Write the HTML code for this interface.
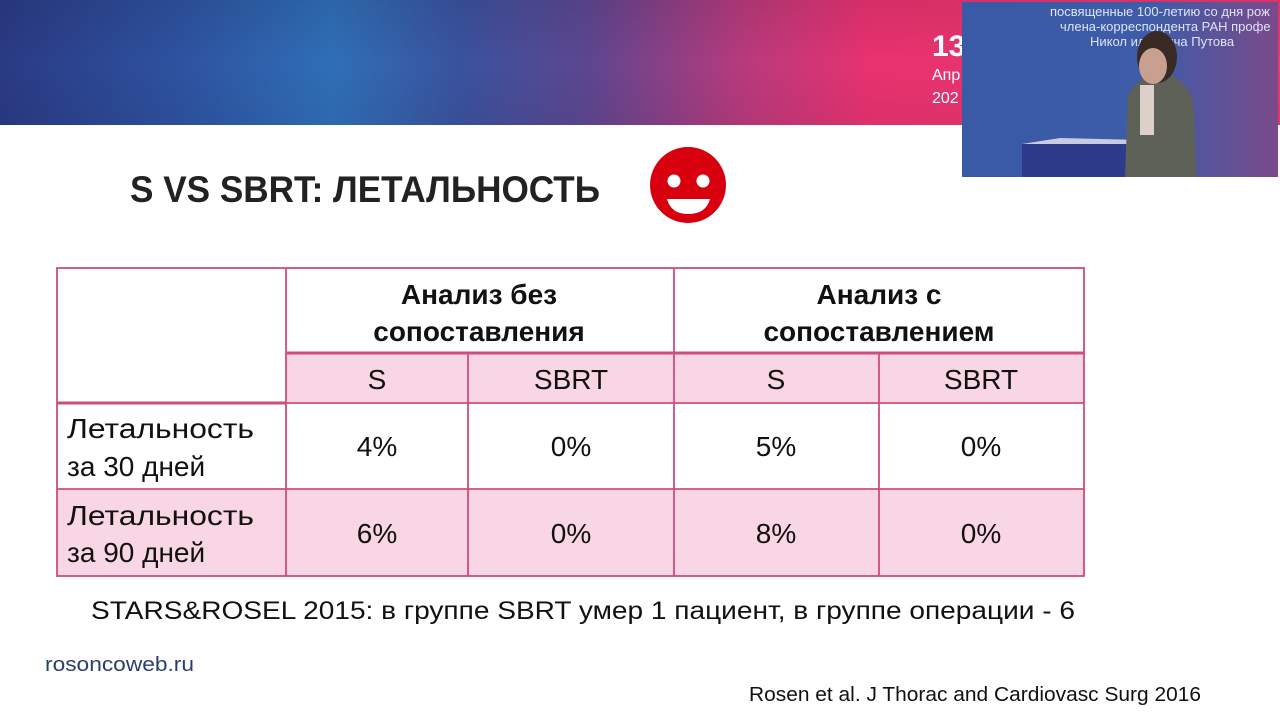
<!DOCTYPE html>
<html><head><meta charset="utf-8"><style>
html,body{margin:0;padding:0;background:#fff;width:1280px;height:720px;overflow:hidden}
svg{display:block}
text{font-family:"Liberation Sans",sans-serif}
</style></head><body>
<svg width="1280" height="720" viewBox="0 0 1280 720" xmlns="http://www.w3.org/2000/svg">
<defs>
<linearGradient id="bn" x1="0" y1="0" x2="1" y2="0">
<stop offset="0" stop-color="#2a3a84"/>
<stop offset="0.14" stop-color="#2e52a0"/>
<stop offset="0.26" stop-color="#2f6fb7"/>
<stop offset="0.36" stop-color="#3a529e"/>
<stop offset="0.46" stop-color="#5e4690"/>
<stop offset="0.58" stop-color="#b83a7c"/>
<stop offset="0.68" stop-color="#e8326f"/>
<stop offset="1" stop-color="#ec3870"/>
</linearGradient>
<linearGradient id="bv" x1="0" y1="0" x2="0" y2="1">
<stop offset="0" stop-color="#000" stop-opacity="0.08"/>
<stop offset="0.5" stop-color="#000" stop-opacity="0"/>
<stop offset="1" stop-color="#000" stop-opacity="0.05"/>
</linearGradient>
<linearGradient id="vid" x1="0" y1="0" x2="1" y2="0">
<stop offset="0" stop-color="#3a5aa6"/>
<stop offset="0.6" stop-color="#3e5ca8"/>
<stop offset="1" stop-color="#7a4a8a"/>
</linearGradient>
</defs>
<rect x="0" y="0" width="1280" height="125" fill="url(#bn)"/>
<rect x="0" y="0" width="1280" height="125" fill="url(#bv)"/>
<text x="932" y="56" font-size="30" fill="#fff" font-weight="bold">13</text>
<text x="932" y="80" font-size="16" fill="#fff">Апр</text>
<text x="932" y="103" font-size="16" fill="#fff">202</text>
<!-- video inset -->
<rect x="962" y="2" width="316" height="175" fill="url(#vid)"/>
<text x="1050" y="16" font-size="13" fill="#dfe4f5">посвященные 100-летию со дня рож</text>
<text x="1060" y="31" font-size="13" fill="#dfe4f5">члена-корреспондента РАН профе</text>
<text x="1090" y="46" font-size="13" fill="#dfe4f5">Никол      ильевича Путова</text>
<rect x="1022" y="144" width="120" height="33" fill="#2e3a8a"/>
<polygon points="1022,144 1060,138 1142,140 1142,144" fill="#c8cce0"/>
<path d="M1125,177 L1128,95 Q1140,72 1170,75 Q1192,85 1194,110 L1196,177 Z" fill="#5d6158"/>
<ellipse cx="1157" cy="57" rx="20" ry="26" fill="#3a2a25"/>
<ellipse cx="1153" cy="66" rx="14" ry="18" fill="#c9a090"/>
<rect x="1140" y="85" width="14" height="50" fill="#ddd0c8"/>
<!-- title -->
<text x="130" y="202" font-size="37" font-weight="bold" fill="#222" textLength="470" lengthAdjust="spacingAndGlyphs">S VS SBRT: ЛЕТАЛЬНОСТЬ</text>
<!-- smiley -->
<circle cx="688" cy="185" r="38" fill="#d8000f"/>
<circle cx="674" cy="181" r="6.5" fill="#fff"/>
<circle cx="703" cy="181" r="6.5" fill="#fff"/>
<path d="M667,199 L710,199 Q706,214 688,214 Q671,214 667,199 Z" fill="#fff"/>
<!-- table fills -->
<rect x="286" y="353" width="798" height="50" fill="#f9d6e4"/>
<rect x="57" y="489" width="1027" height="87" fill="#f9d6e4"/>
<g stroke="#cf4d7b" stroke-width="1.8" fill="none">
<rect x="57" y="268" width="1027" height="308"/>
<line x1="286" y1="268" x2="286" y2="576"/>
<line x1="674" y1="268" x2="674" y2="576"/>
<line x1="468" y1="353" x2="468" y2="576"/>
<line x1="879" y1="353" x2="879" y2="576"/>
<line x1="286" y1="353" x2="1084" y2="353" stroke-width="3"/>
<line x1="57" y1="403" x2="286" y2="403" stroke-width="3"/>
<line x1="286" y1="403" x2="1084" y2="403"/>
<line x1="57" y1="489" x2="1084" y2="489"/>
</g>
<g font-size="28" fill="#111" text-anchor="middle">
<text x="479" y="304" font-weight="bold">Анализ без</text>
<text x="479" y="341" font-weight="bold">сопоставления</text>
<text x="879" y="304" font-weight="bold">Анализ с</text>
<text x="879" y="341" font-weight="bold">сопоставлением</text>
<text x="377" y="389">S</text>
<text x="571" y="389">SBRT</text>
<text x="776" y="389">S</text>
<text x="981" y="389">SBRT</text>
<text x="377" y="456">4%</text>
<text x="571" y="456">0%</text>
<text x="776" y="456">5%</text>
<text x="981" y="456">0%</text>
<text x="377" y="543">6%</text>
<text x="571" y="543">0%</text>
<text x="776" y="543">8%</text>
<text x="981" y="543">0%</text>
</g>
<g font-size="28" fill="#111">
<text x="67" y="438" textLength="187" lengthAdjust="spacingAndGlyphs">Летальность</text>
<text x="67" y="476">за 30 дней</text>
<text x="67" y="525" textLength="187" lengthAdjust="spacingAndGlyphs">Летальность</text>
<text x="67" y="562">за 90 дней</text>
</g>
<text x="91" y="619" font-size="25" fill="#111" textLength="984" lengthAdjust="spacingAndGlyphs">STARS&amp;ROSEL 2015: в группе SBRT умер 1 пациент, в группе операции - 6</text>
<text x="45" y="671" font-size="20" fill="#2b3f6e" textLength="149" lengthAdjust="spacingAndGlyphs">rosoncoweb.ru</text>
<text x="749" y="701" font-size="20" fill="#111" textLength="452" lengthAdjust="spacingAndGlyphs">Rosen et al. J Thorac and Cardiovasc Surg 2016</text>
</svg>
</body></html>
